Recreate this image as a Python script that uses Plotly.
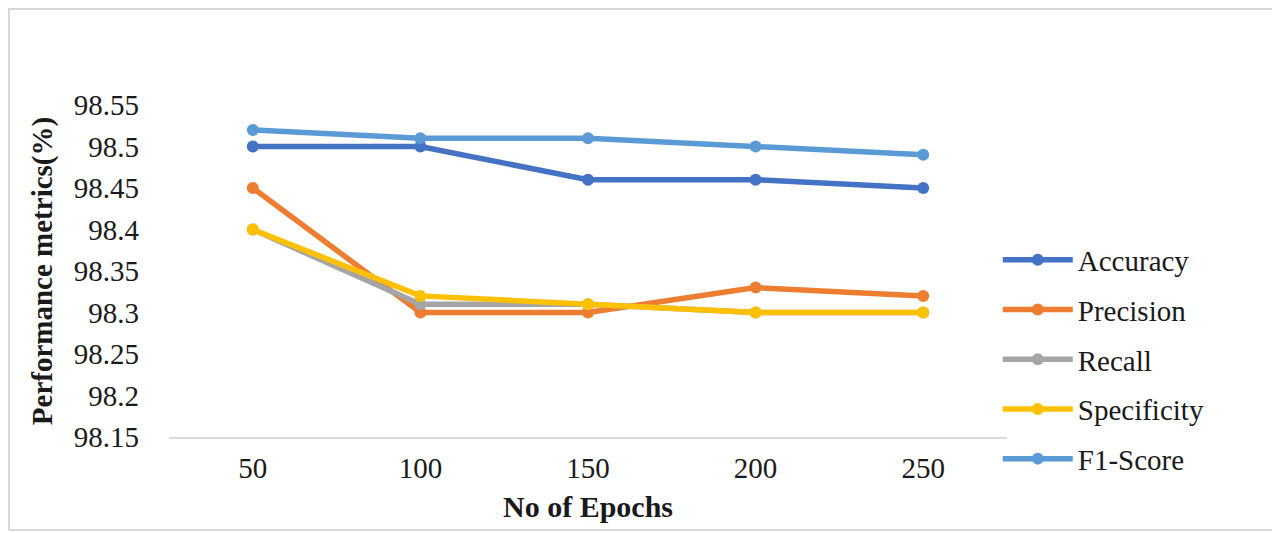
import plotly.graph_objects as go

# Data
epochs = ["50", "100", "150", "200", "250"]
accuracy = [98.50, 98.50, 98.46, 98.46, 98.45]
precision = [98.45, 98.30, 98.30, 98.33, 98.32]
recall = [98.40, 98.31, 98.31, 98.30, 98.30]
specificity = [98.40, 98.32, 98.31, 98.30, 98.30]
f1_score = [98.52, 98.51, 98.51, 98.50, 98.49]
y_ticks = [98.15, 98.2, 98.25, 98.3, 98.35, 98.4, 98.45, 98.5, 98.55]

series = [
    ("Accuracy", accuracy, "#4472C4"),
    ("Precision", precision, "#ED7D31"),
    ("Recall", recall, "#A5A5A5"),
    ("Specificity", specificity, "#FFC000"),
    ("F1-Score", f1_score, "#5B9BD5"),
]

font_family = "Liberation Serif, Times New Roman, serif"
text_color = "#1a1a1a"

fig = go.Figure()
for name, values, color in series:
    fig.add_trace(
        go.Scatter(
            x=epochs,
            y=values,
            mode="lines+markers",
            name=name,
            legendgroup=name,
            line=dict(color=color, width=5.5),
            marker=dict(color=color, size=12),
        )
    )

# page body has an 8px margin, so the figure is shrunk and shifted by 8px
W, H = 1272, 525
L, T, PW, PH = 161, 97, 838, 332

fig.update_layout(
    width=W,
    height=H,
    margin=dict(l=L, r=W - L - PW, t=T, b=H - T - PH),
    paper_bgcolor="white",
    plot_bgcolor="white",
    font=dict(family=font_family, size=29, color=text_color),
    showlegend=True,
    legend=dict(
        x=0.989,
        y=0.61,
        xanchor="left",
        yanchor="top",
        tracegroupgap=9,
        itemwidth=70,
        font=dict(family=font_family, size=29, color=text_color),
        bgcolor="rgba(0,0,0,0)",
    ),
    xaxis=dict(
        type="category",
        range=[-0.5, 4.5],
        showline=True,
        linecolor="#d9d9d9",
        linewidth=2,
        showgrid=False,
        zeroline=False,
        ticks="",
        ticklabelstandoff=4,
        title=dict(
            text="<b>No of Epochs</b>",
            font=dict(family=font_family, size=30, color=text_color),
            standoff=13,
        ),
    ),
    yaxis=dict(
        range=[98.15, 98.55],
        tickvals=y_ticks,
        ticktext=[f"{v:g}" for v in y_ticks],
        showline=False,
        showgrid=False,
        zeroline=False,
        ticks="",
        ticklabelstandoff=29,
        title=dict(
            text="<b>Performance metrics(%)</b>",
            font=dict(family=font_family, size=29, color=text_color),
            standoff=12,
        ),
    ),
    shapes=[
        dict(
            type="rect",
            xref="paper",
            yref="paper",
            x0=(1 - L) / PW,
            x1=(1268 - L) / PW,
            y0=(T + PH - 522) / PH,
            y1=(T + PH - 1) / PH,
            line=dict(color="#d9d9d9", width=2),
            layer="below",
        )
    ],
)

fig.write_html("out.html")
